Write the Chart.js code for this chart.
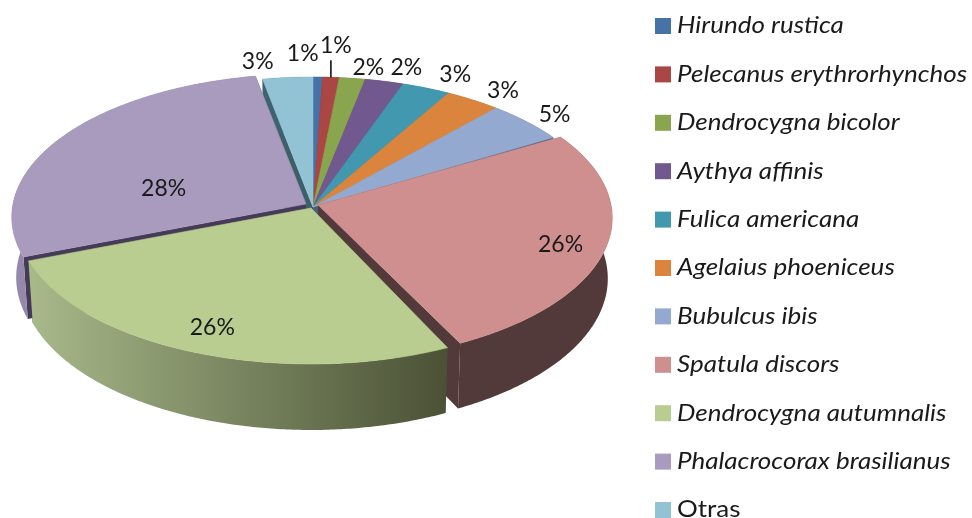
<!DOCTYPE html>
<html>
<head>
<meta charset="utf-8">
<script src="https://cdn.jsdelivr.net/npm/chart.js@4"></script>
<style>html,body{margin:0;padding:0;background:#fff}canvas{display:block}</style>
</head>
<body>
<canvas id="c" width="972" height="518"></canvas>
<script>
const species = ["Hirundo rustica","Pelecanus erythrorhynchos","Dendrocygna bicolor","Aythya affinis","Fulica americana","Agelaius phoeniceus","Bubulcus ibis","Spatula discors","Dendrocygna autumnalis","Phalacrocorax brasilianus","Otras"];
const shares = [0.56,1.0,1.55,2.3,2.9,3.3,4.8,26.2,26.45,27.85,3.0];
const topColors = ["#4572A7","#AA4643","#89A54E","#71588F","#4198AF","#DB843D","#93A9CF","#CF8F8E","#B9CD91","#A99BBD","#92C3D5"];

// 3D look of the pie
const view = {cx:313, cy:207, A:293, B:141.8, k:0.0909, H:60};
const explode = [[0,0],[0,0],[0,0],[0,0],[0,0],[0,0],[0,0],[5,-2],[-2,1],[-7,-3],[0,0]];
const startTrim = [0,0,0,0,0,0,0,0.014,0.02,0,0];
const wallColors = [["#2B4668","#2B4668"],["#692B29","#692B29"],["#556630","#556630"],["#463658","#463658"],["#285E6C","#285E6C"],["#885226","#885226"],["#4F5F7E","#4F5F7E"],["#533A3A","#533A3A"],["#A8B98A","#4A5135"],["#958AAB","#7E7295"],["#3E6270","#3E6270"]];
const cutColors = ["#2B4668","#692B29","#556630","#463658","#285E6C","#885226","#4A5D7B","#533A3A","#4A5135","#453A58","#3D5F6A"];
const paintGroups = [[0,1,2,3,4,5,6,10],[9],[7],[8]];
const labelNudge = [[-15,-23],[5,-32],[16,-11],[22,-14],[29,-13],[30,-9],[28,-7],[-46,-1],[17,-25],[103,50],[-30,-16]];
const leaderSlice = 1;
const legendBox = {boxX:655, textX:677, firstY:26, step:48.4, size:16, stretch:1.13};
const LABEL_FONT = '23px Lato, "Open Sans", sans-serif';
const LEGEND_FONT = '23px Lato, "Open Sans", sans-serif';

function project(i, theta, r, h){
  const x = r*Math.sin(theta), z = -r*Math.cos(theta), d = 1 - view.k*z;
  return [view.cx + explode[i][0] + view.A*x/d*(1-0.015*h),
          view.cy + explode[i][1] + (view.B*z + view.H*h)/d];
}
function poly(ctx, pts){
  ctx.beginPath();
  pts.forEach((p,n)=> n? ctx.lineTo(p[0],p[1]) : ctx.moveTo(p[0],p[1]));
  ctx.closePath();
}
function edge(i,a,b,h){
  const n = Math.max(4, Math.ceil((b-a)/0.01)), out=[];
  for(let s=0;s<=n;s++) out.push(project(i,a+(b-a)*s/n,1,h));
  return out;
}
const pie3d = {
  id:'pie3d',
  beforeDatasetDraw(chart){
    const ctx = chart.ctx, arcs = chart.getDatasetMeta(0).data;
    const ang = arcs.map((e,i)=>[e.startAngle+Math.PI/2+startTrim[i], e.endAngle+Math.PI/2]);
    ctx.save();
    paintGroups.forEach(group=>{
      group.forEach(i=>{
        const [a,b]=ang[i], top=edge(i,a,b,0), bot=edge(i,a,b,1);
        const c0=project(i,0,0,0), c1=project(i,0,0,1);
        ctx.fillStyle=cutColors[i];
        [[top[0],bot[0]],[top[top.length-1],bot[bot.length-1]]].forEach(w=>{
          poly(ctx,[c0,w[0],w[1],c1]); ctx.fill();
        });
        const xs=top.map(p=>p[0]);
        const g=ctx.createLinearGradient(Math.min(...xs),0,Math.max(...xs),0);
        g.addColorStop(0,wallColors[i][0]); g.addColorStop(1,wallColors[i][1]);
        ctx.fillStyle=g;
        poly(ctx,top.concat(bot.slice().reverse())); ctx.fill();
      });
      group.forEach(i=>{
        const [a,b]=ang[i];
        ctx.fillStyle=topColors[i]; ctx.strokeStyle=topColors[i]; ctx.lineWidth=0.6;
        poly(ctx,[project(i,0,0,0)].concat(edge(i,a,b,0))); ctx.fill(); ctx.stroke();
      });
    });
    ctx.restore();
    return false;
  },
  afterDraw(chart){
    const ctx=chart.ctx, arcs=chart.getDatasetMeta(0).data;
    const total=shares.reduce((s,v)=>s+v,0);
    ctx.save();
    ctx.fillStyle='#1a1a1a'; ctx.textAlign='center'; ctx.textBaseline='middle'; ctx.font=LABEL_FONT;
    arcs.forEach((e,i)=>{
      const mid=(e.startAngle+e.endAngle)/2+Math.PI/2;
      const p=project(i,mid,1,0);
      ctx.fillText(Math.round(shares[i]/total*100)+'%',p[0]+labelNudge[i][0],p[1]+labelNudge[i][1]);
      if(i===leaderSlice){
        ctx.strokeStyle='#111'; ctx.lineWidth=1.6;
        ctx.beginPath(); ctx.moveTo(p[0],p[1]); ctx.lineTo(p[0],p[1]-17); ctx.stroke();
      }
    });
    // legend
    ctx.textAlign='left';
    species.forEach((name,i)=>{
      const y=legendBox.firstY+legendBox.step*i;
      ctx.fillStyle=topColors[i];
      ctx.fillRect(legendBox.boxX,y-legendBox.size/2,legendBox.size,legendBox.size);
      ctx.fillStyle='#1a1a1a';
      ctx.font=(name==='Otras'?'':'italic ')+LEGEND_FONT;
      ctx.save();
      ctx.translate(legendBox.textX,y);
      ctx.scale(legendBox.stretch,1);
      ctx.fillText(name,0,0);
      ctx.restore();
    });
    ctx.restore();
  }
};
new Chart(document.getElementById('c'),{
  type:'pie',
  data:{labels:species,datasets:[{data:shares,backgroundColor:topColors,borderWidth:0}]},
  options:{
    responsive:false,animation:false,
    layout:{padding:{right:340}},
    plugins:{legend:{display:false},tooltip:{enabled:false},title:{display:false}}
  },
  plugins:[pie3d]
});
</script>
</body>
</html>
